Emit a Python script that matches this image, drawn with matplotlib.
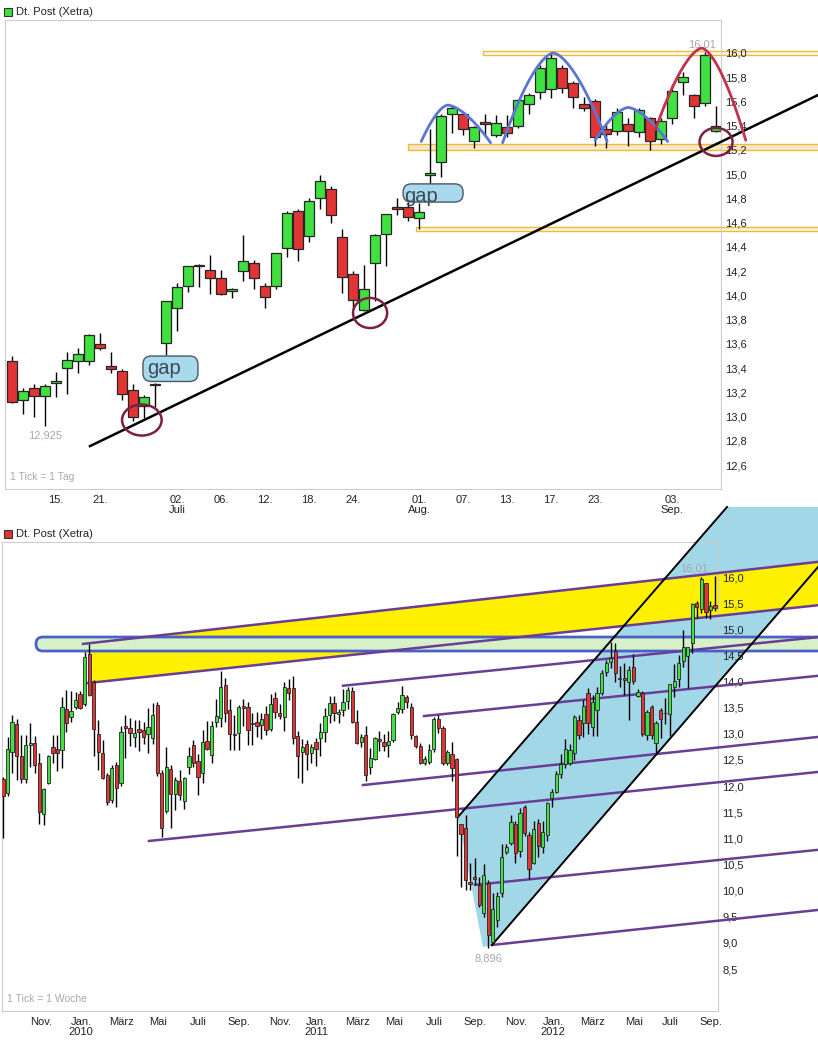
import numpy as np
import matplotlib.pyplot as plt
from matplotlib.patches import FancyBboxPatch, Ellipse, Polygon, Rectangle

plt.rcParams['font.family'] = ['Liberation Sans', 'DejaVu Sans']

# ---- daily candles, 11.06.2012 - 07.09.2012
d_open = [13.46, 13.14, 13.24, 13.17, 13.28, 13.40, 13.46, 13.46, 13.60, 13.42,
          13.38, 13.22, 13.09, 13.26, 13.61, 13.90, 14.08, 14.24, 14.21, 14.14,
          14.04, 14.20, 14.27, 14.08, 14.08, 14.39, 14.70, 14.49, 14.80, 14.88,
          14.48, 14.18, 13.88, 14.27, 14.51, 14.73, 14.73, 14.64, 14.99, 15.10,
          15.50, 15.50, 15.27, 15.43, 15.32, 15.39, 15.40, 15.58, 15.68, 15.70,
          15.88, 15.75, 15.58, 15.60, 15.37, 15.36, 15.41, 15.35, 15.46, 15.29,
          15.46, 15.76, 15.65, 15.59, 15.36]
d_high = [13.50, 13.24, 13.27, 13.27, 13.37, 13.53, 13.57, 13.68, 13.69, 13.53,
          13.39, 13.27, 13.18, 13.28, 13.95, 14.10, 14.24, 14.26, 14.33, 14.21,
          14.06, 14.50, 14.29, 14.10, 14.35, 14.70, 14.71, 14.80, 14.99, 14.90,
          14.55, 14.20, 14.25, 14.51, 14.67, 14.80, 14.77, 14.76, 15.37, 15.50,
          15.56, 15.51, 15.40, 15.50, 15.49, 15.49, 15.62, 15.67, 15.90, 16.00,
          15.90, 15.77, 15.64, 15.62, 15.41, 15.55, 15.46, 15.55, 15.47, 15.46,
          15.74, 15.84, 15.66, 16.01, 15.56]
d_low = [13.11, 13.02, 13.00, 12.925, 13.16, 13.19, 13.36, 13.43, 13.55, 13.36,
         13.14, 12.96, 12.99, 13.08, 13.51, 13.71, 14.03, 14.07, 14.01, 14.00,
         13.98, 14.12, 14.05, 13.90, 14.05, 14.32, 14.28, 14.44, 14.71, 14.60,
         14.02, 13.89, 13.87, 13.95, 14.24, 14.66, 14.61, 14.55, 14.91, 14.98,
         15.34, 15.32, 15.22, 15.32, 15.31, 15.31, 15.38, 15.50, 15.62, 15.63,
         15.67, 15.55, 15.52, 15.23, 15.22, 15.32, 15.23, 15.31, 15.20, 15.25,
         15.41, 15.65, 15.46, 15.56, 15.35]
d_close = [13.12, 13.21, 13.17, 13.25, 13.29, 13.47, 13.52, 13.67, 13.57, 13.39,
           13.19, 13.00, 13.16, 13.27, 13.95, 14.07, 14.24, 14.25, 14.14, 14.01,
           14.04, 14.28, 14.14, 13.99, 14.35, 14.68, 14.38, 14.78, 14.94, 14.66,
           14.15, 13.96, 14.05, 14.50, 14.67, 14.71, 14.65, 14.69, 15.01, 15.48,
           15.55, 15.37, 15.39, 15.41, 15.42, 15.34, 15.61, 15.65, 15.88, 15.96,
           15.71, 15.64, 15.55, 15.31, 15.33, 15.51, 15.36, 15.53, 15.27, 15.44,
           15.69, 15.80, 15.56, 15.98, 15.40]
d_tick_pos = [4, 8, 15, 19, 23, 27, 31, 37, 41, 45, 49, 53, 60]
d_tick_lab = ['15.', '21.', '02.\nJuli', '06.', '12.', '18.', '24.',
              '01.\nAug.', '07.', '13.', '17.', '23.', '03.\nSep.']

# ---- weekly candles, Sep. 2009 - Sep. 2012
w_open = [12.13, 11.87, 12.65, 13.19, 12.58, 12.14, 12.79, 12.82, 12.44, 11.47,
          12.06, 12.75, 12.71, 12.69, 13.47, 13.32, 13.51, 13.76, 13.57, 14.53,
          13.99, 13.00, 12.63, 12.21, 11.73, 12.40, 12.06, 13.15, 13.11, 12.94,
          13.09, 13.07, 13.00, 12.92, 13.55, 12.25, 11.52, 12.32, 11.85, 12.10,
          11.72, 12.36, 12.79, 12.48, 12.25, 12.86, 12.59, 13.23, 13.30, 13.93,
          13.46, 13.00, 13.02, 13.53, 13.51, 13.20, 13.22, 13.17, 13.38, 13.09,
          13.69, 13.40, 13.32, 13.87, 13.87, 12.96, 12.65, 12.81, 12.63, 12.84,
          12.92, 13.03, 13.36, 13.59, 13.38, 13.46, 13.63, 13.82, 13.23, 12.84,
          12.98, 12.36, 12.52, 12.90, 12.84, 12.79, 12.88, 13.42, 13.47, 13.70,
          13.51, 12.96, 12.77, 12.44, 12.46, 12.71, 13.28, 13.11, 12.44, 12.61,
          12.52, 11.27, 11.20, 10.16, 10.26, 10.11, 9.57, 10.15, 9.02, 9.44,
          9.95, 10.74, 10.91, 11.27, 10.76, 11.60, 11.06, 10.53, 11.29, 10.83,
          11.06, 11.77, 11.89, 12.23, 12.42, 12.45, 12.63, 13.26, 13.21, 13.78,
          13.13, 13.46, 13.78, 14.18, 14.38, 14.58, 14.04, 14.06, 13.99, 14.28,
          13.72, 13.78, 12.98, 13.51, 12.82, 13.46, 13.40, 13.38, 13.90, 14.04,
          14.39, 14.48, 14.73, 15.50, 15.39, 15.88, 15.36, 15.46]
w_high = [12.17, 12.94, 13.36, 13.28, 12.98, 12.98, 13.20, 12.96, 12.63, 11.96,
          12.60, 12.98, 12.98, 13.70, 13.84, 13.82, 13.80, 13.82, 14.56, 14.72,
          14.03, 13.26, 12.88, 12.25, 12.40, 12.47, 13.15, 13.36, 13.30, 13.26,
          13.26, 13.23, 13.49, 13.59, 13.61, 12.30, 12.75, 12.40, 12.17, 12.31,
          12.18, 12.75, 12.88, 12.62, 13.07, 13.24, 13.24, 13.67, 14.20, 14.07,
          13.67, 13.36, 13.55, 13.67, 13.61, 13.40, 13.42, 13.40, 13.53, 13.76,
          13.80, 13.57, 14.00, 14.05, 14.10, 13.05, 12.90, 12.88, 12.80, 12.92,
          13.20, 13.50, 13.72, 13.72, 13.48, 13.86, 13.90, 13.89, 13.45, 13.00,
          13.15, 12.73, 12.94, 13.05, 13.00, 13.05, 13.40, 13.60, 13.91, 13.74,
          13.59, 12.98, 12.82, 12.57, 12.80, 13.32, 13.36, 13.15, 12.70, 12.84,
          12.54, 11.28, 11.45, 10.53, 10.62, 10.26, 10.51, 10.20, 9.95, 9.97,
          10.89, 10.89, 11.45, 11.33, 11.58, 11.64, 11.12, 11.33, 11.37, 11.33,
          11.70, 11.95, 12.28, 12.61, 12.90, 12.80, 13.36, 13.36, 13.65, 13.88,
          13.75, 13.90, 14.22, 14.42, 14.75, 14.74, 14.30, 14.35, 14.30, 14.52,
          13.85, 13.82, 13.46, 13.55, 13.25, 13.50, 13.69, 13.95, 14.33, 14.50,
          14.99, 14.67, 15.50, 15.55, 16.00, 15.88, 15.55, 16.01]
w_low = [11.00, 11.81, 12.25, 12.12, 12.06, 12.06, 12.37, 12.25, 11.27, 11.26,
         12.04, 12.44, 12.29, 12.35, 13.03, 13.23, 13.47, 13.47, 13.53, 13.72,
         12.58, 12.31, 12.13, 11.64, 11.68, 11.60, 12.00, 12.54, 12.76, 12.74,
         12.67, 12.81, 12.63, 12.81, 12.20, 11.03, 11.48, 11.20, 11.54, 11.73,
         11.56, 12.23, 12.36, 11.83, 12.05, 12.69, 12.44, 13.13, 13.13, 13.23,
         12.69, 12.69, 12.69, 13.15, 12.79, 12.79, 12.93, 12.90, 12.98, 13.05,
         13.30, 13.28, 13.05, 13.65, 12.80, 12.15, 12.05, 12.30, 12.45, 12.38,
         12.58, 12.85, 13.20, 13.25, 13.20, 13.35, 13.48, 13.20, 12.80, 12.75,
         12.10, 12.24, 12.50, 12.68, 12.68, 12.55, 12.85, 13.38, 13.40, 13.50,
         12.90, 12.72, 12.42, 12.40, 12.42, 12.65, 13.02, 12.40, 12.40, 12.10,
         10.66, 10.07, 10.01, 10.01, 10.11, 9.69, 9.50, 8.896, 8.98, 9.30,
         9.88, 10.70, 10.88, 10.53, 10.65, 11.05, 10.22, 10.50, 10.65, 10.72,
         10.95, 11.60, 11.86, 12.15, 12.35, 12.40, 12.50, 12.90, 12.93, 13.00,
         12.95, 12.95, 13.75, 14.10, 14.25, 14.00, 13.90, 13.75, 13.26, 13.95,
         13.70, 12.95, 12.88, 12.90, 12.63, 12.925, 13.19, 12.96, 13.71, 13.90,
         14.28, 13.88, 14.55, 15.22, 15.31, 15.22, 15.20, 15.35]
w_close = [11.81, 12.71, 13.23, 12.58, 12.14, 12.79, 12.82, 12.40, 11.50, 11.94,
           12.58, 12.63, 12.63, 13.51, 13.21, 13.44, 13.65, 13.49, 14.47, 13.74,
           13.09, 12.65, 12.15, 11.70, 12.35, 11.96, 13.03, 13.11, 13.02, 13.02,
           13.03, 12.94, 13.13, 13.36, 12.25, 11.20, 12.36, 11.85, 12.12, 11.83,
           12.16, 12.58, 12.44, 12.17, 12.84, 12.71, 13.15, 13.34, 13.90, 13.40,
           13.00, 12.97, 13.51, 13.49, 13.07, 13.18, 13.15, 13.28, 13.07, 13.57,
           13.42, 13.34, 13.90, 13.78, 12.92, 12.58, 12.75, 12.61, 12.75, 12.71,
           13.03, 13.34, 13.59, 13.40, 13.42, 13.61, 13.84, 13.23, 12.82, 12.94,
           12.21, 12.54, 12.92, 12.86, 12.77, 12.86, 13.38, 13.49, 13.74, 13.61,
           12.98, 12.77, 12.44, 12.52, 12.69, 13.28, 13.11, 12.44, 12.65, 12.35,
           11.41, 11.08, 10.20, 10.12, 10.22, 9.72, 10.30, 9.15, 9.65, 9.90,
           10.64, 10.83, 11.31, 10.72, 11.48, 11.10, 10.41, 11.18, 10.85, 11.12,
           11.68, 11.89, 12.23, 12.42, 12.71, 12.70, 13.32, 12.98, 13.53, 13.21,
           13.60, 13.78, 14.16, 14.35, 14.45, 14.16, 14.06, 14.03, 14.22, 14.01,
           13.80, 13.00, 13.42, 12.98, 13.21, 13.29, 13.39, 13.95, 14.01, 14.35,
           14.66, 14.67, 15.48, 15.42, 15.96, 15.33, 15.44, 15.40]
w_tick_pos = [8.4, 17.2, 26.2, 34.2, 43.0, 52.0, 61.1, 69.2, 78.1, 86.2, 95.0,
              104.1, 113.1, 121.3, 129.9, 139.1, 147.1, 156.1]
w_tick_lab = ['Nov.', 'Jan.\n2010', 'März', 'Mai', 'Juli', 'Sep.',
              'Nov.', 'Jan.\n2011', 'März', 'Mai', 'Juli', 'Sep.',
              'Nov.', 'Jan.\n2012', 'März', 'Mai', 'Juli', 'Sep.']

GREEN = '#3fe03f'
RED = '#e23434'
PURPLE = '#6a3d96'
FRAME = '#cccccc'
GRAY = '#a8a8a8'


def comma(v, nd=1):
    return f'{v:.{nd}f}'.replace('.', ',')


def candles(ax, o, h, l, c, width, lw):
    o, h, l, c = map(np.asarray, (o, h, l, c))
    x = np.arange(len(o))
    ax.vlines(x, l, h, color='black', lw=1, zorder=5)
    lo = np.minimum(o, c)
    hgt = np.maximum(np.abs(c - o), 0.012)
    col = np.where(c >= o, GREEN, RED)
    ax.bar(x, hgt, bottom=lo, width=width, color=col, edgecolor='#262626',
           lw=lw, zorder=6)


def extend(line, x_end):
    x0, y0, x1, y1 = line
    return [x0, x_end], [y0, y0 + (y1 - y0) * (x_end - x0) / (x1 - x0)]


def arc(ax, x0, xp, x1, y0, yp, y1, color):
    xl = np.linspace(x0, xp, 40)
    yl = yp - (yp - y0) * ((xp - xl) / (xp - x0)) ** 1.6
    xr = np.linspace(xp, x1, 40)
    yr = yp - (yp - y1) * ((xr - xp) / (x1 - xp)) ** 1.6
    ax.plot(np.r_[xl, xr], np.r_[yl, yr], color=color, lw=2, zorder=7,
            clip_on=False, solid_capstyle='round')


def style(ax, yticks, xpos, xlab):
    for s in ax.spines.values():
        s.set_color(FRAME)
    ax.yaxis.tick_right()
    ax.set_yticks(yticks)
    ax.set_yticklabels([comma(v) for v in yticks])
    ax.set_xticks(xpos)
    ax.set_xticklabels(xlab, linespacing=1.0)
    ax.tick_params(length=0, labelsize=8, colors='#222222')
    ax.tick_params(axis='y', pad=3)
    ax.tick_params(axis='x', pad=4)
    # price labels sit above the coloured zones
    ax.yaxis.set_zorder(3.2)


fig = plt.figure(figsize=(8.18, 10.4), dpi=100)
W, H = 818, 1040

# ================= top: daily
ax1 = fig.add_axes([5 / W, 1 - 489 / H, 716 / W, 469 / H])
ax1.set_xlim(-0.64, 64.45)
ax1.set_ylim(12.403, 16.272)
style(ax1, np.arange(12.6, 16.01, 0.2), d_tick_pos, d_tick_lab)

# horizontal resistance / support bands
for x0, ylo, yhi, fc in [(42.8, 15.983, 16.017, '#fffaf0'),
                         (36.0, 15.200, 15.249, '#fbe9c6'),
                         (36.7, 14.531, 14.564, '#fff6e0')]:
    ax1.add_patch(Rectangle((x0, ylo), 75 - x0, yhi - ylo, fc=fc,
                            ec='#f0b93c', lw=1, zorder=2, clip_on=False))

# trend line
tx, ty = extend((7.09, 12.757, 73.27, 15.653), 75)
ax1.plot(tx, ty, color='black', lw=1.8, zorder=4, clip_on=False)

# arcs
arc(ax1, 37.2, 39.6, 43.5, 15.27, 15.57, 15.26, '#5a76d2')
arc(ax1, 44.6, 49.2, 54.1, 15.26, 16.00, 15.27, '#5a76d2')
arc(ax1, 53.0, 56.0, 59.6, 15.28, 15.55, 15.27, '#5a76d2')
arc(ax1, 58.5, 62.7, 66.7, 15.37, 16.04, 15.28, '#c4304e')

candles(ax1, d_open, d_high, d_low, d_close, 0.84, 0.9)

for cx, cy, ew, eh in [(11.8, 12.972, 3.6, 0.256), (32.55, 13.855, 3.1, 0.248),
                       (64.0, 15.266, 3.0, 0.231)]:
    ax1.add_patch(Ellipse((cx, cy), ew, eh, fill=False, ec='#7d1f45', lw=1.8,
                          zorder=8, clip_on=False))

for bx, by, bw, bh, gx, gy in [(11.9, 13.29, 5.0, 0.21, 13.8, 13.40),
                               (35.55, 14.77, 5.45, 0.15, 37.2, 14.82)]:
    ax1.add_patch(FancyBboxPatch((bx, by), bw, bh,
                                 boxstyle='round,pad=0,rounding_size=0.75',
                                 mutation_aspect=(1 / 121.2) / (1 / 11),
                                 fc='#a9d9ec', ec='#4a5866', lw=1, zorder=9))
    ax1.text(gx, gy, 'gap', fontsize=14.5, color='#3c4a56', ha='center',
             va='center', zorder=10)

i_max = int(np.argmax(d_high))
i_min = int(np.argmin(d_low))
ax1.text(i_max - 0.3, d_high[i_max] + 0.02, comma(d_high[i_max], 2), color=GRAY,
         fontsize=8, ha='center', va='bottom')
ax1.text(i_min, d_low[i_min] - 0.04, comma(d_low[i_min], 3), color=GRAY,
         fontsize=8, ha='center', va='top')
ax1.text(0.007, 0.015, '1 Tick = 1 Tag', transform=ax1.transAxes, color=GRAY,
         fontsize=7.5, ha='left', va='bottom')

# ================= bottom: weekly
ax2 = fig.add_axes([2 / W, 1 - 1011 / H, 716 / W, 469 / H])
ax2.set_xlim(-0.22, 157.66)
ax2.set_ylim(7.697, 16.670)
style(ax2, np.arange(8.5, 16.01, 0.5), w_tick_pos, w_tick_lab)

XE = 182
# rising channel
ax2.add_patch(Polygon([(100.33, 11.41), (159.65, 17.34), (XE, 17.34),
                       (XE, 16.19 + (XE - 179.7) * 0.1006), (107.83, 8.96),
                       (105.84, 8.92)], closed=True, fc='#a2d7e8', ec='none',
                      zorder=1, clip_on=False))
ax2.plot([100.33, 159.65], [11.41, 17.34], color='black', lw=1.4, zorder=4,
         clip_on=False)
lx, ly = extend((107.83, 8.96, 179.7, 16.19), XE)
ax2.plot(lx, ly, color='black', lw=1.4, zorder=4, clip_on=False)

# yellow band
top_line = (17.64, 14.72, 179.7, 16.29)
bot_line = (18.52, 13.97, 179.7, 15.46)
ax_, ay_ = extend(top_line, XE)
bx_, by_ = extend(bot_line, XE)
y_top0 = extend(top_line, 19.2)[1][1]
y_bot0 = extend(bot_line, 19.2)[1][1]
ax2.add_patch(Polygon([(19.2, y_top0), (XE, ay_[1]), (XE, by_[1]),
                       (19.2, y_bot0)], closed=True, fc='#fff000', ec='none',
                      zorder=2, clip_on=False))

# horizontal zone
ax2.add_patch(FancyBboxPatch((7.28, 14.584), 190, 0.268,
                             boxstyle='round,pad=0,rounding_size=1.5',
                             mutation_aspect=(1 / 52.27) / (1 / 4.535),
                             fc='#d6f1c8', ec='#4a62c8', lw=2, zorder=3,
                             clip_on=False))

purple_lines = [top_line, bot_line,
                (74.97, 13.92, 179.7, 14.85),
                (92.83, 13.34, 179.7, 14.11),
                (79.38, 12.02, 179.7, 12.94),
                (32.19, 10.95, 179.7, 12.27),
                (104.08, 10.11, 179.7, 10.78),
                (107.83, 8.96, 179.7, 9.63)]
for ln in purple_lines:
    px, py = extend(ln, XE)
    ax2.plot(px, py, color=PURPLE, lw=1.8, zorder=3.5, clip_on=False)

candles(ax2, w_open, w_high, w_low, w_close, 0.72, 0.6)

j_max = int(np.argmax(w_high))
j_min = int(np.argmin(w_low))
ax2.text(j_max - 1.5, w_high[j_max] + 0.05, comma(w_high[j_max], 2),
         color=GRAY, fontsize=8, ha='right', va='bottom', zorder=10)
ax2.text(j_min, w_low[j_min] - 0.1, comma(w_low[j_min], 3), color=GRAY,
         fontsize=8, ha='center', va='top', zorder=10)
ax2.text(0.007, 0.015, '1 Tick = 1 Woche', transform=ax2.transAxes,
         color=GRAY, fontsize=7.5, ha='left', va='bottom')

# legend headers
for y, col in [(12, GREEN), (534, RED)]:
    fig.add_artist(Rectangle((4 / W, 1 - (y + 4) / H), 8 / W, 8 / H,
                             transform=fig.transFigure, fc=col, ec='#333333',
                             lw=0.8))
    fig.text(16 / W, 1 - y / H, 'Dt. Post (Xetra)', fontsize=8,
             color='#222222', ha='left', va='center')

fig.savefig('out.png', dpi=100, facecolor='white')
